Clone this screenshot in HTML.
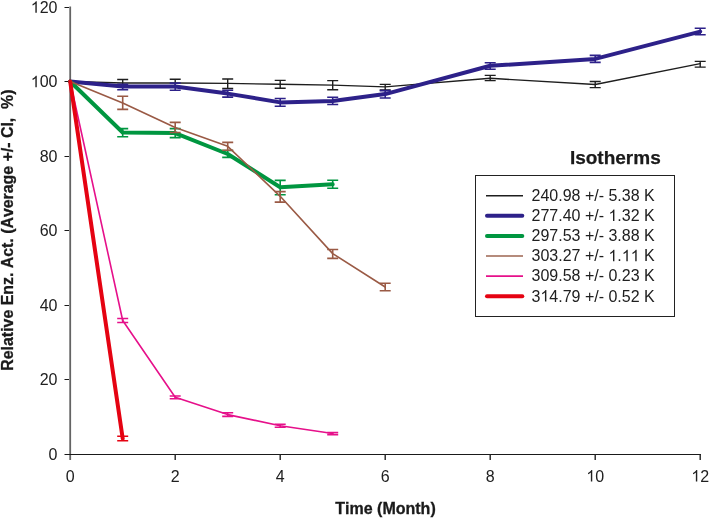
<!DOCTYPE html>
<html><head><meta charset="utf-8"><style>
html,body{margin:0;padding:0;background:#fff;width:709px;height:518px;overflow:hidden}
svg{display:block;will-change:transform}
text{font-family:"Liberation Sans",sans-serif;font-kerning:none}
</style></head><body>
<svg width="709" height="518" viewBox="0 0 709 518">
<path d="M70.2,6.5V460" stroke="#646464" stroke-width="1.8" fill="none"/>
<path d="M64.5,454.5H701" stroke="#1a1a1a" stroke-width="1.15" fill="none"/>
<path d="M64.5,379.5H69M64.5,305.5H69M64.5,230.5H69M64.5,156.5H69M64.5,81.5H69M64.5,7.5H69" stroke="#1a1a1a" stroke-width="1.1" fill="none"/>
<path d="M175.20,454V460M280.20,454V460M385.20,454V460M490.20,454V460M595.20,454V460M700.20,454V460" stroke="#222" stroke-width="1.4" fill="none"/>
<g font-family="Liberation Sans"><text x="48.602" y="459.700" font-size="16" fill="#202020">0</text><text x="39.703" y="385.200" font-size="16" fill="#202020">20</text><text x="39.703" y="310.700" font-size="16" fill="#202020">40</text><text x="39.703" y="236.200" font-size="16" fill="#202020">60</text><text x="39.703" y="161.700" font-size="16" fill="#202020">80</text><text x="30.805" y="87.200" font-size="16" fill="#202020">&#8199;00</text><path d="M763,0H583V1147Q518,1085 412,1023Q307,961 223,930V1104Q374,1175 487,1276Q600,1377 647,1472H763Z" transform="translate(30.805,87.200) scale(0.007812,-0.007812)" fill="#202020"/><text x="30.805" y="12.700" font-size="16" fill="#202020">&#8199;20</text><path d="M763,0H583V1147Q518,1085 412,1023Q307,961 223,930V1104Q374,1175 487,1276Q600,1377 647,1472H763Z" transform="translate(30.805,12.700) scale(0.007812,-0.007812)" fill="#202020"/><text x="65.751" y="481.500" font-size="16" fill="#202020">0</text><text x="170.751" y="481.500" font-size="16" fill="#202020">2</text><text x="275.751" y="481.500" font-size="16" fill="#202020">4</text><text x="380.751" y="481.500" font-size="16" fill="#202020">6</text><text x="485.751" y="481.500" font-size="16" fill="#202020">8</text><text x="586.302" y="481.500" font-size="16" fill="#202020">&#8199;0</text><path d="M763,0H583V1147Q518,1085 412,1023Q307,961 223,930V1104Q374,1175 487,1276Q600,1377 647,1472H763Z" transform="translate(586.302,481.500) scale(0.007812,-0.007812)" fill="#202020"/><text x="691.302" y="481.500" font-size="16" fill="#202020">&#8199;2</text><path d="M763,0H583V1147Q518,1085 412,1023Q307,961 223,930V1104Q374,1175 487,1276Q600,1377 647,1472H763Z" transform="translate(691.302,481.500) scale(0.007812,-0.007812)" fill="#202020"/></g>
<text x="385.5" y="513.6" text-anchor="middle" font-family="Liberation Sans" font-weight="bold" font-size="16" fill="#1a1a1a" stroke="#1a1a1a" stroke-width="0.3">Time (Month)</text>
<text transform="translate(12.7,230.1) rotate(-90)" text-anchor="middle" font-family="Liberation Sans" font-weight="bold" font-size="15.9" fill="#1a1a1a" stroke="#1a1a1a" stroke-width="0.3" xml:space="preserve">Relative Enz. Act. (Average +/- CI,  %)</text>
<polyline points="70.20,81.50 122.70,83.00 175.20,83.00 227.70,83.40 280.20,84.30 332.70,85.10 385.20,86.90 490.20,78.30 595.20,84.50 700.20,63.60" fill="none" stroke="#1e1e1e" stroke-width="1.4" stroke-linejoin="round" stroke-linecap="round"/>
<path d="M122.70,79.50V86.50M117.20,79.50H128.20M117.20,86.50H128.20M175.20,79.30V87.00M169.70,79.30H180.70M169.70,87.00H180.70M227.70,79.00V88.50M222.20,79.00H233.20M222.20,88.50H233.20M280.20,80.40V88.20M274.70,80.40H285.70M274.70,88.20H285.70M332.70,80.60V89.70M327.20,80.60H338.20M327.20,89.70H338.20M385.20,84.40V90.00M379.70,84.40H390.70M379.70,90.00H390.70M490.20,75.40V80.60M484.70,75.40H495.70M484.70,80.60H495.70M595.20,81.50V87.60M589.70,81.50H600.70M589.70,87.60H600.70M700.20,61.40V67.10M694.70,61.40H705.70M694.70,67.10H705.70" fill="none" stroke="#1e1e1e" stroke-width="1.4"/>

<polyline points="70.20,81.50 122.70,86.40 175.20,86.40 227.70,93.60 280.20,102.40 332.70,100.90 385.20,94.10 490.20,65.80 595.20,58.90 700.20,31.60" fill="none" stroke="#2d2189" stroke-width="4.0" stroke-linejoin="round" stroke-linecap="round"/>
<path d="M122.70,84.20V89.80M117.20,84.20H128.20M117.20,89.80H128.20M175.20,83.10V90.30M169.70,83.10H180.70M169.70,90.30H180.70M227.70,90.30V97.10M222.20,90.30H233.20M222.20,97.10H233.20M280.20,98.50V106.30M274.70,98.50H285.70M274.70,106.30H285.70M332.70,97.30V104.50M327.20,97.30H338.20M327.20,104.50H338.20M385.20,90.60V98.00M379.70,90.60H390.70M379.70,98.00H390.70M490.20,62.70V69.20M484.70,62.70H495.70M484.70,69.20H495.70M595.20,55.40V62.40M589.70,55.40H600.70M589.70,62.40H600.70M700.20,28.30V34.80M694.70,28.30H705.70M694.70,34.80H705.70" fill="none" stroke="#2d2189" stroke-width="1.6"/>

<polyline points="70.20,81.50 122.70,132.50 175.20,133.10 227.70,154.00 280.20,187.30 332.70,184.30" fill="none" stroke="#009640" stroke-width="4.0" stroke-linejoin="round" stroke-linecap="round"/>
<path d="M122.70,128.60V136.80M117.20,128.60H128.20M117.20,136.80H128.20M175.20,128.60V137.60M169.70,128.60H180.70M169.70,137.60H180.70M227.70,150.50V157.40M222.20,150.50H233.20M222.20,157.40H233.20M280.20,180.40V194.70M274.70,180.40H285.70M274.70,194.70H285.70M332.70,180.20V188.30M327.20,180.20H338.20M327.20,188.30H338.20" fill="none" stroke="#009640" stroke-width="1.6"/>

<polyline points="70.20,81.50 122.70,103.00 175.20,127.40 227.70,146.30 280.20,196.30 332.70,253.60 385.20,287.00" fill="none" stroke="#9a5a45" stroke-width="1.6" stroke-linejoin="round" stroke-linecap="round"/>
<path d="M122.70,96.20V109.40M117.20,96.20H128.20M117.20,109.40H128.20M175.20,122.40V132.50M169.70,122.40H180.70M169.70,132.50H180.70M227.70,142.40V150.20M222.20,142.40H233.20M222.20,150.20H233.20M280.20,191.60V202.10M274.70,191.60H285.70M274.70,202.10H285.70M332.70,249.50V258.40M327.20,249.50H338.20M327.20,258.40H338.20M385.20,283.20V290.80M379.70,283.20H390.70M379.70,290.80H390.70" fill="none" stroke="#9a5a45" stroke-width="1.6"/>

<polyline points="70.20,81.50 122.70,320.50 175.20,397.30 227.70,414.60 280.20,425.70 332.70,433.50" fill="none" stroke="#e6108a" stroke-width="1.6" stroke-linejoin="round" stroke-linecap="round"/>
<path d="M122.70,318.50V322.50M117.20,318.50H128.20M117.20,322.50H128.20M175.20,396.00V398.70M169.70,396.00H180.70M169.70,398.70H180.70M227.70,412.80V416.40M222.20,412.80H233.20M222.20,416.40H233.20M280.20,424.20V427.30M274.70,424.20H285.70M274.70,427.30H285.70M332.70,432.50V434.60M327.20,432.50H338.20M327.20,434.60H338.20" fill="none" stroke="#e6108a" stroke-width="1.6"/>

<polyline points="70.20,81.50 122.70,438.50" fill="none" stroke="#e50312" stroke-width="4.0" stroke-linejoin="round" stroke-linecap="round"/>
<path d="M122.70,436.30V440.75M117.20,436.30H128.20M117.20,440.75H128.20" fill="none" stroke="#e50312" stroke-width="1.6"/>

<text x="615.3" y="164" text-anchor="middle" font-family="Liberation Sans" font-weight="bold" font-size="19" fill="#1a1a1a" stroke="#1a1a1a" stroke-width="0.25">Isotherms</text>
<rect x="475.5" y="175.5" width="199" height="141" fill="#fff" stroke="#222" stroke-width="1"/>
<path d="M486,195.70H523" stroke="#1e1e1e" stroke-width="1.4" stroke-linecap="butt"/>
<text x="531.500" y="201.000" font-size="16" fill="#202020">240.98 +/- 5.38 K</text>
<path d="M487,215.80H522.3" stroke="#2d2189" stroke-width="4" stroke-linecap="round"/>
<text x="531.500" y="221.100" font-size="16" fill="#202020">277.40 +/- &#8199;.32 K</text><path d="M763,0H583V1147Q518,1085 412,1023Q307,961 223,930V1104Q374,1175 487,1276Q600,1377 647,1472H763Z" transform="translate(608.445,221.100) scale(0.007812,-0.007812)" fill="#202020"/>
<path d="M487,235.90H522.3" stroke="#009640" stroke-width="4" stroke-linecap="round"/>
<text x="531.500" y="241.200" font-size="16" fill="#202020">297.53 +/- 3.88 K</text>
<path d="M486,256.00H523" stroke="#9c6450" stroke-width="1.6" stroke-linecap="butt"/>
<text x="531.500" y="261.300" font-size="16" fill="#202020">303.27 +/- &#8199;.&#8199;&#8199; K</text><path d="M763,0H583V1147Q518,1085 412,1023Q307,961 223,930V1104Q374,1175 487,1276Q600,1377 647,1472H763Z" transform="translate(608.445,261.300) scale(0.007812,-0.007812)" fill="#202020"/><path d="M763,0H583V1147Q518,1085 412,1023Q307,961 223,930V1104Q374,1175 487,1276Q600,1377 647,1472H763Z" transform="translate(621.789,261.300) scale(0.007812,-0.007812)" fill="#202020"/><path d="M763,0H583V1147Q518,1085 412,1023Q307,961 223,930V1104Q374,1175 487,1276Q600,1377 647,1472H763Z" transform="translate(630.688,261.300) scale(0.007812,-0.007812)" fill="#202020"/>
<path d="M486,276.10H523" stroke="#e6108a" stroke-width="1.6" stroke-linecap="butt"/>
<text x="531.500" y="281.400" font-size="16" fill="#202020">309.58 +/- 0.23 K</text>
<path d="M487,296.20H522.3" stroke="#e50312" stroke-width="4" stroke-linecap="round"/>
<text x="531.500" y="301.500" font-size="16" fill="#202020">3&#8199;4.79 +/- 0.52 K</text><path d="M763,0H583V1147Q518,1085 412,1023Q307,961 223,930V1104Q374,1175 487,1276Q600,1377 647,1472H763Z" transform="translate(540.398,301.500) scale(0.007812,-0.007812)" fill="#202020"/>
</svg>
</body></html>
